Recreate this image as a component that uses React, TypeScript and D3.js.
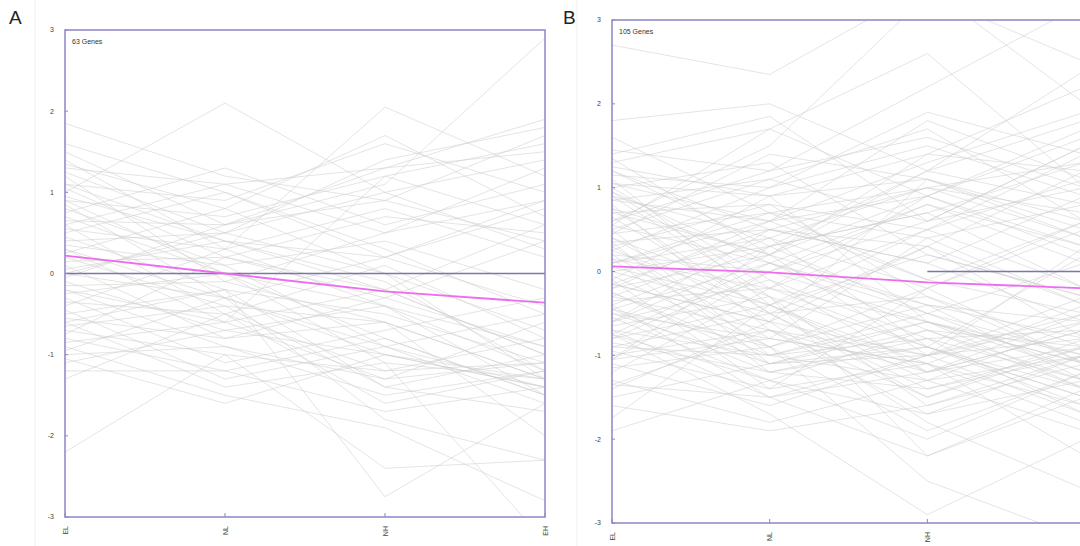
import React from 'react'
import * as d3 from 'd3'

const stages = ['EL', 'NL', 'NH', 'EH']
const yTicks = [3, 2, 1, 0, -1, -2, -3]

// panel A: 63 genes, values at EL, NL, NH, EH
const genesA: number[][] = [
  [1.85, 1.2, 0.9, 1.7], [1.5, 0.6, 1.3, 1.9], [1.4, 0.3, -0.4, -1.2], [1.3, 1.1, 0.5, 0.9],
  [1.25, 0.5, 1.0, 1.4], [1.2, -0.1, -0.6, -1.3], [1.1, 0.9, 1.6, 1.0], [1.05, 0.2, -0.3, -0.9],
  [1.0, 2.1, 1.0, 0.3], [0.95, 0.4, 0.2, 0.8], [0.9, 0.7, 1.2, 1.6], [0.85, -0.3, -1.0, -1.4],
  [0.8, 0.1, 0.4, -0.2], [0.75, 1.3, 0.6, 1.1], [0.7, 0.0, -0.8, -1.5], [0.65, 0.6, 0.9, 0.4],
  [0.6, -0.5, -1.2, -0.8], [0.55, 0.3, 2.05, 1.2], [0.5, 1.0, 0.3, -0.5], [0.45, -0.2, -0.5, -1.1],
  [0.4, 0.5, 1.4, 1.8], [0.35, 0.1, -0.9, -1.6], [0.3, -0.6, -0.2, 0.6], [0.25, 0.8, 0.0, -0.7],
  [0.2, -0.4, -1.4, -1.0], [0.15, 0.2, 0.7, 0.5], [0.1, -0.8, -0.6, -1.3], [0.05, 0.4, -0.1, -1.2],
  [0.0, -0.3, -1.8, -2.3], [-0.05, 0.6, 1.1, 2.9], [-0.1, -0.7, -1.0, -1.4], [-0.15, -0.1, 0.5, 1.3],
  [-0.2, -0.9, -1.3, -1.1], [-0.25, 0.0, -0.4, -1.5], [-0.3, -1.1, -0.7, -0.3], [-0.35, -0.5, -1.6, -1.2],
  [-0.4, 0.3, 0.8, 0.2], [-0.45, -1.3, -0.9, -1.4], [-0.5, -0.2, -2.75, -1.6], [-0.55, -0.8, -0.3, 0.4],
  [-0.6, -1.4, -1.1, -1.3], [-0.65, -0.4, -0.6, -2.0], [-0.7, -1.0, -2.4, -2.3], [-0.75, 0.2, -0.2, -1.0],
  [-0.8, -1.2, -0.8, -1.5], [-0.85, -0.6, -1.3, -0.6], [-0.9, -1.5, -1.9, -2.8], [-0.95, -0.3, 0.2, 0.9],
  [-1.0, -0.9, -1.5, -1.2], [-1.05, -1.6, -1.0, -1.3], [-1.1, -0.7, -0.4, -0.9], [-1.2, -1.2, -1.7, -1.4],
  [-1.3, -0.5, 0.1, -0.8], [-2.2, -1.0, -1.2, -1.1], [1.6, 1.0, 0.2, -0.4], [1.35, 0.8, 1.7, 0.7],
  [0.9, 0.0, -1.1, -3.3], [0.6, 1.1, 1.3, 1.5], [0.3, -0.3, -0.9, -0.5], [-0.2, -0.6, 1.2, 0.6],
  [0.0, 0.5, 0.0, -1.3], [1.1, 0.4, -0.2, -1.0], [-0.6, -0.2, -1.4, -1.7],
]
const meanA = [0.22, 0.0, -0.22, -0.36]

// panel B: 105 genes
const genesB: number[][] = [
  [2.7, 2.35, 3.4, 2.0], [1.8, 2.0, 1.2, 0.8], [1.4, 1.85, 0.6, 1.5], [1.3, 1.7, 2.6, 1.0],
  [1.25, 0.9, 1.4, 2.2], [1.2, 0.3, -0.5, -1.0], [1.15, 1.0, 1.9, 1.4], [1.1, -0.4, -1.2, -0.7],
  [1.05, 0.6, 0.9, 1.6], [1.0, 1.3, 0.2, -0.3], [0.95, -0.2, 0.5, 1.1], [0.9, 0.4, -0.9, -1.4],
  [0.85, 1.1, 1.7, 0.6], [0.8, -0.7, -1.0, -0.5], [0.75, 0.2, 1.2, 1.8], [0.7, 0.8, -0.3, -1.1],
  [0.65, -0.5, -1.5, -0.9], [0.6, 1.5, 3.3, 2.5], [0.55, 0.1, 0.8, 0.3], [0.5, -1.0, -0.8, -1.3],
  [0.45, 0.7, 1.0, 1.3], [0.4, -0.3, -2.2, -1.5], [0.35, 0.5, 0.3, -0.8], [0.3, -0.8, -1.1, -0.4],
  [0.25, 1.0, 1.5, 0.9], [0.2, 0.0, -0.6, -1.2], [0.15, -1.2, -0.9, 0.2], [0.1, 0.6, 1.3, 1.9],
  [0.05, -0.4, -1.3, -1.0], [0.0, 0.3, 0.7, -0.2], [-0.05, -0.9, -0.4, -1.3], [-0.1, 0.9, 1.1, 0.5],
  [-0.15, -0.6, -1.8, -2.6], [-0.2, 0.2, 1.4, 1.2], [-0.25, -1.1, -1.0, -0.6], [-0.3, 0.4, -0.2, -1.1],
  [-0.35, -0.2, 0.9, 1.7], [-0.4, -1.5, -1.2, -0.9], [-0.45, 0.1, -0.7, -1.4], [-0.5, -0.8, 0.4, 0.8],
  [-0.55, -1.3, -2.0, -1.2], [-0.6, 0.5, 1.0, 0.4], [-0.65, -0.3, -0.9, -1.6], [-0.7, -1.0, -0.5, 0.1],
  [-0.75, -1.7, -2.9, -2.0], [-0.8, 0.0, 0.6, 1.0], [-0.85, -1.2, -0.8, -0.7], [-0.9, -0.5, -1.4, -1.0],
  [-0.95, -1.4, -0.2, 0.5], [-1.0, -0.7, -1.7, -1.3], [-1.05, 0.3, 1.2, 2.4], [-1.1, -1.6, -1.0, -0.8],
  [-1.15, -0.9, -2.5, -3.2], [-1.2, -0.2, -0.6, -1.1], [-1.3, -1.8, -1.3, -0.6], [-1.4, -0.6, 0.3, -0.4],
  [-1.5, -1.1, -0.9, -1.5], [-1.6, -1.9, -1.6, -1.0], [-1.75, -0.4, -1.1, -2.2], [-1.9, -1.3, -0.7, -0.9],
  [1.6, 0.7, -0.1, 0.6], [1.45, 1.2, 2.2, 3.2], [1.0, -0.1, -0.8, -1.7], [0.85, 0.6, 1.8, 1.1],
  [0.7, 0.2, -0.4, -0.6], [0.55, 1.7, 0.9, 0.2], [0.4, -0.6, -1.0, -0.3], [0.3, 0.8, 0.5, 1.4],
  [0.2, -0.9, -1.9, -1.2], [0.1, 0.4, 1.0, 0.7], [0.0, -0.5, -0.3, -0.9], [-0.1, -1.4, -1.1, -1.8],
  [-0.2, 0.6, -0.1, -0.5], [-0.3, -0.7, -1.5, -0.8], [-0.4, 0.3, 0.7, 1.3], [-0.5, -1.1, -0.6, -1.4],
  [-0.6, -0.1, -1.2, -0.7], [-0.7, -1.5, -1.0, 0.3], [-0.8, -0.4, 0.2, -0.3], [-0.9, -1.0, -1.3, -1.9],
  [1.2, 0.5, 0.1, 0.9], [0.9, -0.3, -1.6, -1.1], [0.6, 1.2, 1.6, 1.0], [0.35, -1.1, -0.7, -1.3],
  [0.1, 0.7, 0.4, -0.4], [-0.15, -0.6, 1.1, 0.6], [-0.45, -1.2, -1.4, -0.9], [-0.75, 0.1, -0.5, -1.2],
  [-1.05, -0.8, -1.1, -1.6], [-1.35, -1.5, -2.2, -1.4], [1.35, 0.2, 0.9, 0.3], [1.05, 0.9, -0.6, -1.0],
  [0.75, -0.5, 0.3, 1.2], [0.45, 1.4, 1.1, 0.4], [0.15, -0.2, -0.9, -1.5], [-0.15, 0.5, 0.1, -0.6],
  [-0.45, -0.9, -0.2, 0.6], [-0.75, -1.3, -1.7, -1.0], [-1.05, 0.0, 0.8, 0.1], [-1.35, -0.7, -1.2, -0.5],
  [0.95, 0.1, -0.4, -0.8], [0.5, 1.1, 0.6, 1.5], [-0.25, -1.0, -0.6, -1.1], [-0.6, 0.2, -1.0, -1.7],
  [0.25, -0.4, 0.5, -0.2],
]
const meanB = [0.06, -0.01, -0.13, -0.2]

const W = 1080
const H = 546
const axisColor = '#8a86c8'
const font = 'Liberation Sans, Arial, sans-serif'

type PanelProps = {
  id: string
  letter: string
  letterX: number
  frameX: number
  left: number
  right: number
  top: number
  bottom: number
  label: string
  genes: number[][]
  mean: number[]
  zeroFrom: string
}

function Panel(props: PanelProps) {
  const { id, letter, letterX, frameX, left, right, top, bottom, label, genes, mean, zeroFrom } = props
  const x = d3.scalePoint<string>().domain(stages).range([left, right])
  const y = d3.scaleLinear().domain([-3, 3]).range([bottom, top])
  const line = d3
    .line<number>()
    .x((d, i) => x(stages[i]) as number)
    .y(d => y(d))

  // the right panel runs past the picture edge, so its last label is not shown
  const shownStages = stages.filter(s => (x(s) as number) + 6 < W)

  return (
    <g>
      <line x1={frameX} x2={frameX} y1={0} y2={H} stroke="#f0f0f0" strokeWidth={1} />
      <text x={letterX} y={24} fontFamily={font} fontSize={19} fill="#222">
        {letter}
      </text>
      <clipPath id={`clip-${id}`}>
        <rect x={left} y={top} width={right - left} height={bottom - top} />
      </clipPath>
      <g clipPath={`url(#clip-${id})`}>
        {genes.map((g, i) => (
          <path key={i} d={line(g) as string} fill="none" stroke="#cdcdcd" strokeOpacity={0.55} strokeWidth={1} />
        ))}
        <line
          x1={x(zeroFrom) as number}
          x2={right}
          y1={y(0)}
          y2={y(0)}
          stroke="#7a78a8"
          strokeWidth={1.6}
        />
        <path d={line(mean) as string} fill="none" stroke="#ee6cee" strokeWidth={1.8} />
      </g>
      <rect
        x={left}
        y={top}
        width={right - left}
        height={bottom - top}
        fill="none"
        stroke={axisColor}
        strokeWidth={1.5}
      />
      {yTicks.map(t => (
        <g key={t}>
          <line x1={left} x2={left + 3} y1={y(t)} y2={y(t)} stroke={axisColor} strokeWidth={1} />
          <text
            x={left - 11}
            y={y(t)}
            dy="0.35em"
            textAnchor="end"
            fontFamily={font}
            fontSize={7}
            fill="#444"
          >
            {t}
          </text>
        </g>
      ))}
      {stages.map(s => (
        <line
          key={s}
          x1={x(s) as number}
          x2={x(s) as number}
          y1={bottom}
          y2={bottom - 4}
          stroke={axisColor}
          strokeWidth={1}
        />
      ))}
      {shownStages.map(s => (
        <text
          key={s}
          transform={`translate(${(x(s) as number) + 2.5}, ${bottom + 9}) rotate(-90)`}
          textAnchor="end"
          fontFamily={font}
          fontSize={7}
          fill="#444"
        >
          {s}
        </text>
      ))}
      <text x={left + 7} y={top + 14} fontFamily={font} fontSize={7} fill="#333">
        {label}
      </text>
    </g>
  )
}

export default function App() {
  return (
    <svg width={W} height={H} style={{ position: 'absolute', left: 0, top: 0, background: '#fff' }}>
      <Panel
        id="a"
        letter="A"
        letterX={9}
        frameX={35}
        left={65}
        right={545}
        top={30}
        bottom={517}
        label="63 Genes"
        genes={genesA}
        mean={meanA}
        zeroFrom="EL"
      />
      <Panel
        id="b"
        letter="B"
        letterX={563}
        frameX={577}
        left={612}
        right={1085}
        top={20}
        bottom={523}
        label="105 Genes"
        genes={genesB}
        mean={meanB}
        zeroFrom="NH"
      />
    </svg>
  )
}
